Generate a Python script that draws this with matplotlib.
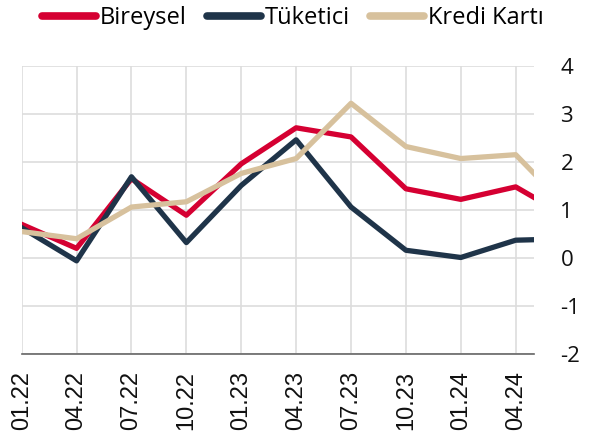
import numpy as np
import matplotlib.pyplot as plt
import pandas as pd

plt.rcParams['font.family'] = ['Open Sans', 'DejaVu Sans']
plt.rcParams['axes.unicode_minus'] = False

# quarterly points plus the last month (05.24)
months = ['01.22', '04.22', '07.22', '10.22', '01.23', '04.23', '07.23',
          '10.23', '01.24', '04.24', '05.24']
month_idx = [0, 3, 6, 9, 12, 15, 18, 21, 24, 27, 28]

bireysel = [0.70, 0.20, 1.65, 0.89, 1.96, 2.71, 2.52, 1.44, 1.22, 1.48, 1.26]
tuketici = [0.63, -0.06, 1.69, 0.32, 1.51, 2.46, 1.06, 0.16, 0.01, 0.37, 0.38]
kredi_karti = [0.55, 0.40, 1.06, 1.17, 1.76, 2.07, 3.22, 2.32, 2.07, 2.15, 1.76]

tick_idx = month_idx[:-1]
tick_labels = months[:-1]

fig = plt.figure(figsize=(5.94, 4.36), dpi=100)
ax = fig.add_axes([0.0365, 0.188, 0.8625, 0.661])

ax.plot(month_idx, bireysel, color='#d50032', lw=3.8, label='Bireysel')
ax.plot(month_idx, tuketici, color='#1f3449', lw=3.8, label='Tüketici')
ax.plot(month_idx, kredi_karti, color='#d7c19d', lw=3.8, label='Kredi Kartı')

ax.set_xlim(0, 28)
ax.set_ylim(-2, 4)
ax.set_yticks(range(-2, 5))
ax.set_xticks(tick_idx)
ax.set_xticklabels(tick_labels, rotation=90, family=['Liberation Sans', 'DejaVu Sans'],
                   fontsize=17)

ax.yaxis.tick_right()
ax.grid(True, color='#dddddd', lw=1.2)
ax.set_axisbelow(True)
for s in ['top', 'right', 'left']:
    ax.spines[s].set_visible(False)
ax.spines['bottom'].set_color('#666666')
ax.spines['bottom'].set_linewidth(1.2)
ax.tick_params(axis='both', length=0, colors='#111111')
ax.tick_params(axis='y', labelsize=16, pad=19)
ax.tick_params(axis='x', pad=12)
for lbl in ax.get_yticklabels():
    lbl.set_horizontalalignment('left')

leg = fig.legend(loc='upper center', bbox_to_anchor=(0.493, 1.035), ncol=3, frameon=False,
                 fontsize=17, handlelength=2.3, handletextpad=0.15, columnspacing=0.85)
for h in leg.get_lines():
    h.set_linewidth(5.5)
    h.set_solid_capstyle('round')

fig.savefig('out.png', dpi=100)
